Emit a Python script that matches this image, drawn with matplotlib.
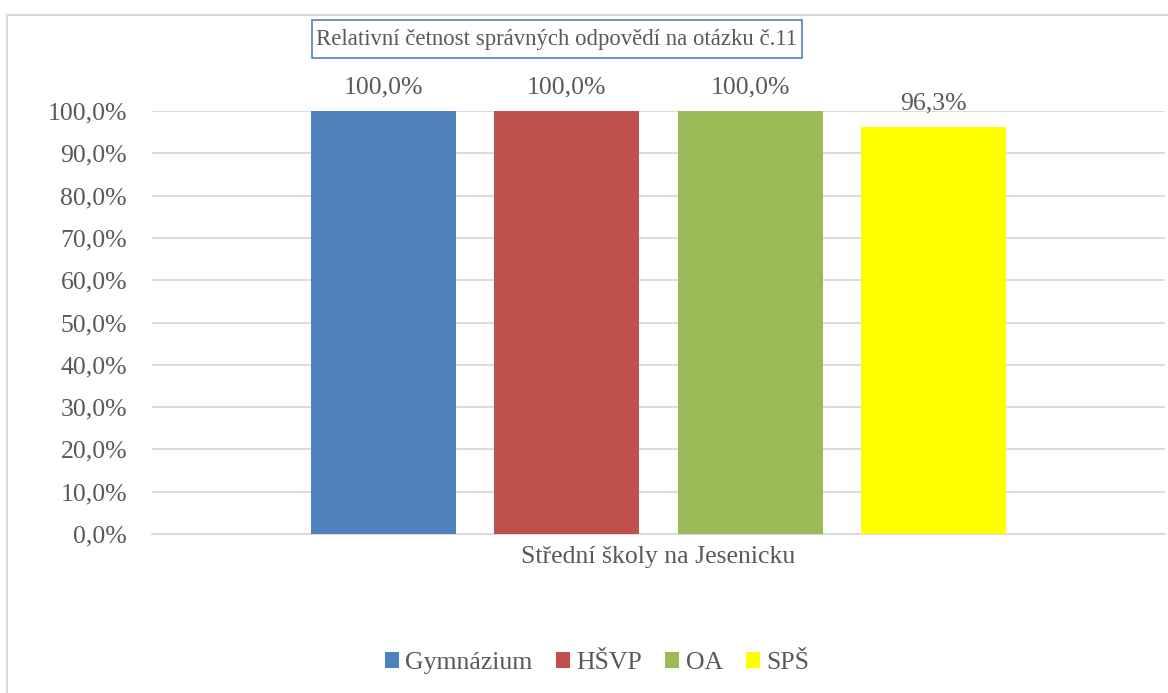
import matplotlib.pyplot as plt
from matplotlib.patches import Rectangle, Patch

# data
schools = ["Gymnázium", "HŠVP", "OA", "SPŠ"]
values = [100.0, 100.0, 100.0, 96.3]
colors = ["#4F81BD", "#C0504D", "#9BBB59", "#FFFF00"]
yticks = [0, 10, 20, 30, 40, 50, 60, 70, 80, 90, 100]

plt.rcParams['font.family'] = ['Liberation Serif', 'DejaVu Serif']
txt = "#595959"
fs = 18.5

fig = plt.figure(figsize=(11.68, 6.93), dpi=100)
W, H = 1168, 693

# outer chart border (right/bottom cut off in the original)
fig.patches.append(Rectangle((7 / W, -0.01), 1.2, 1 - 15 / H + 0.01, transform=fig.transFigure,
                             fill=False, edgecolor="#D9D9D9", linewidth=1.5))

ax = fig.add_axes([152 / W, 1 - 534 / H, (1165 - 152) / W, (534 - 111) / H])
x = range(len(schools))
ax.bar(x, values, width=0.79, color=colors, zorder=3)
for i, v in zip(x, values):
    ax.text(i, v + 3, f"{v:.1f}%".replace(".", ","), ha="center", va="bottom",
            fontsize=fs, color=txt)

ax.set_xlim(-1.26, 4.26)
ax.set_ylim(0, 100)
ax.set_yticks(yticks)
ax.set_yticklabels([f"{t:.1f}%".replace(".", ",") for t in yticks], fontsize=fs, color=txt)
ax.set_xticks([])
ax.tick_params(axis="y", length=0, pad=18)
ax.grid(axis="y", color="#D9D9D9", linewidth=1.3, zorder=0)
for s in ["top", "right", "left"]:
    ax.spines[s].set_visible(False)
ax.spines["bottom"].set_color("#D9D9D9")
ax.spines["bottom"].set_linewidth(1.3)
ax.set_xlabel("Střední školy na Jesenicku", fontsize=fs, color=txt, labelpad=9)

# title with its box
fig.text(557 / W, 1 - 40 / H, "Relativní četnost správných odpovědí na otázku č.11",
         ha="center", va="center", fontsize=16.4, color=txt)
fig.patches.append(Rectangle((312 / W, 1 - 58 / H), 490 / W, 38 / H, transform=fig.transFigure,
                             fill=False, edgecolor="#4F81BD", linewidth=1.2))

handles = [Patch(facecolor=c, label=s) for s, c in zip(schools, colors)]
fig.legend(handles=handles, loc="center", bbox_to_anchor=(597 / W, 1 - 663 / H), ncol=4,
           frameon=False, fontsize=fs, labelcolor=txt, handlelength=0.55, handleheight=0.55,
           handletextpad=0.25, columnspacing=0.9)

fig.savefig("out.png", dpi=100)
